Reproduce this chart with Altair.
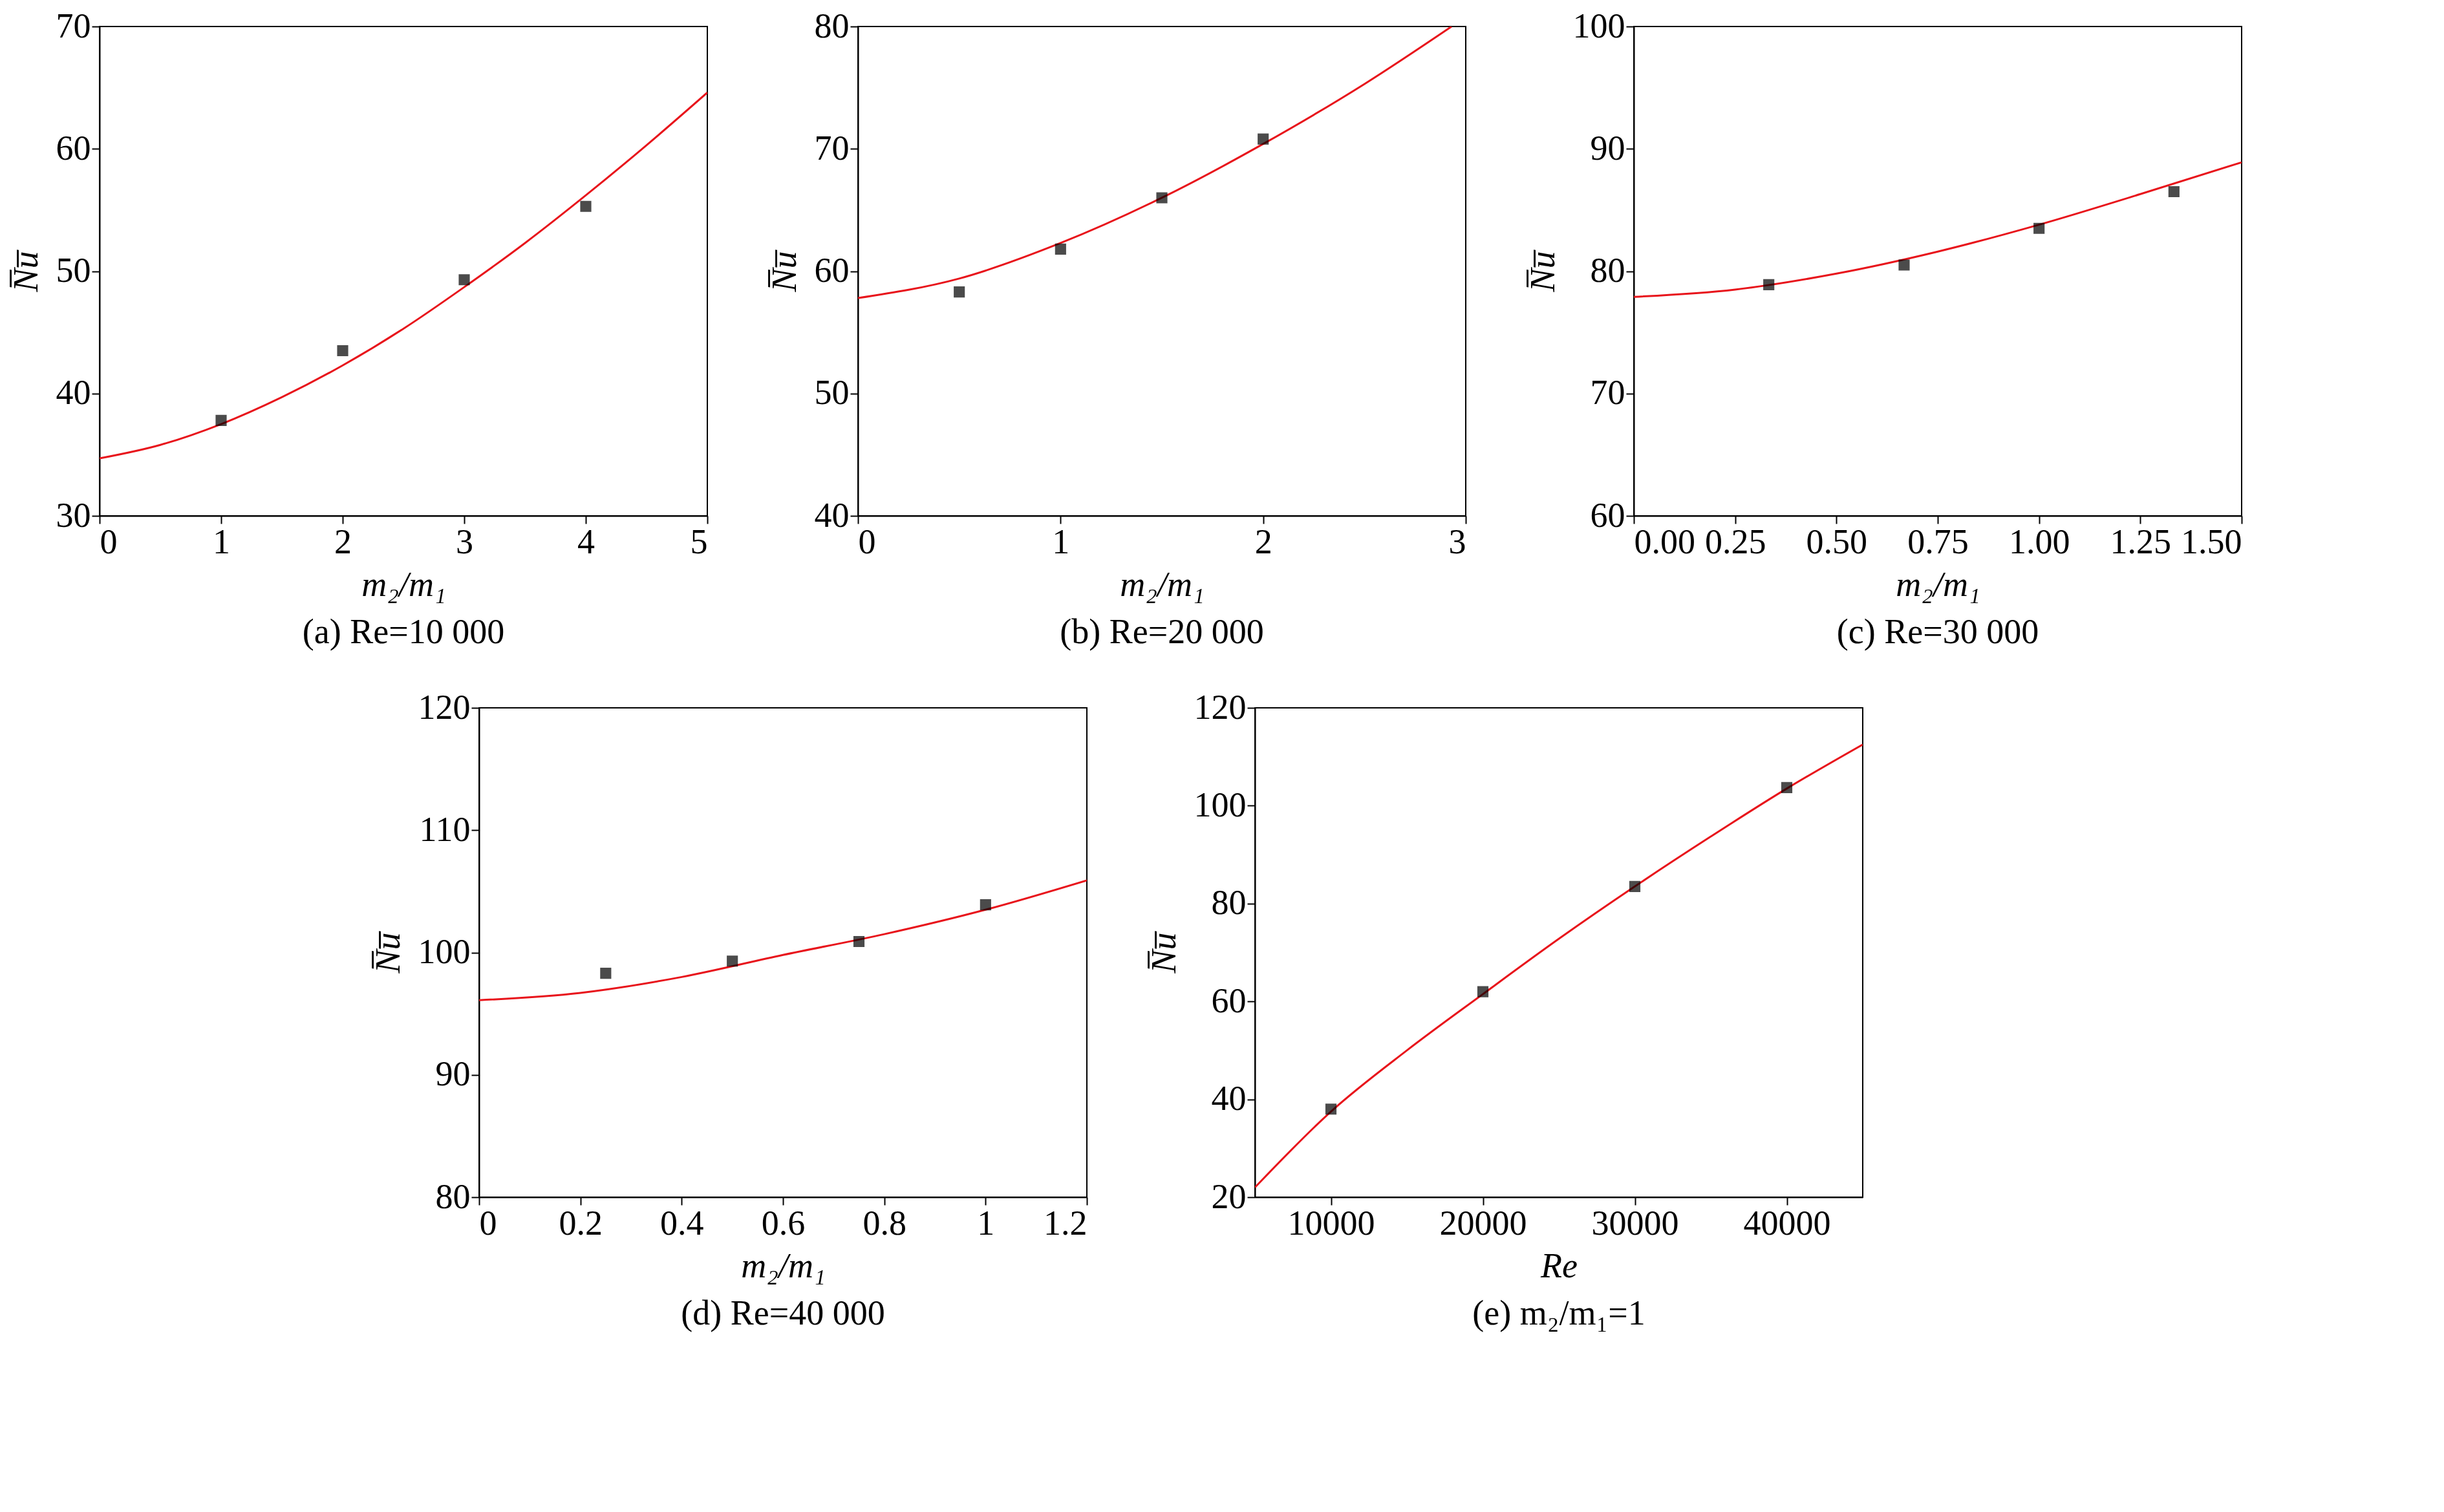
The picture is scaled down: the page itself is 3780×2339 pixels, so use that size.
import altair as alt
import pandas as pd

LINE = "无量纲相关性"
PTS = "平均努塞尔数Nu\u0305"

# panel (a) Re=10 000
a_cx = [0, 0.5, 1, 1.5, 2, 2.5, 3, 3.5, 4, 4.5, 5]
a_cy = [34.7, 35.8, 37.5, 39.7, 42.3, 45.3, 48.7, 52.3, 56.2, 60.3, 64.6]
a_px = [1, 2, 3, 4]
a_py = [37.8, 43.5, 49.3, 55.3]

# panel (b) Re=20 000
b_cx = [0, 0.5, 1, 1.5, 2, 2.5, 2.93]
b_cy = [57.8, 59.4, 62.3, 66.0, 70.4, 75.3, 80.0]
b_px = [0.5, 1, 1.5, 2]
b_py = [58.3, 61.8, 66.0, 70.8]

# panel (c) Re=30 000
c_cx = [0, 0.25, 0.5, 0.75, 1, 1.25, 1.5]
c_cy = [77.9, 78.5, 79.8, 81.6, 83.8, 86.3, 88.9]
c_px = [0.333, 0.667, 1.0, 1.333]
c_py = [78.9, 80.5, 83.5, 86.5]

# panel (d) Re=40 000
d_cx = [0, 0.2, 0.4, 0.6, 0.8, 1.0, 1.2]
d_cy = [96.1, 96.7, 98.0, 99.8, 101.5, 103.5, 105.9]
d_px = [0.25, 0.5, 0.75, 1.0]
d_py = [98.3, 99.3, 100.9, 103.9]

# panel (e) m2/m1=1
e_cx = [5000, 10000, 15000, 20000, 25000, 30000, 35000, 40000, 45000]
e_cy = [22.0, 37.5, 50.0, 61.5, 72.8, 83.5, 93.7, 103.5, 112.5]
e_px = [10000, 20000, 30000, 40000]
e_py = [38.0, 62.0, 83.5, 103.7]

SERIF = "Liberation Serif"
W, H = 940, 757
FS = 54

cscale = alt.Scale(domain=[LINE, PTS], range=["#e8141b", "black"])
sscale = alt.Scale(domain=[LINE, PTS], range=["M-1,0L1,0", "square"])


def panel(cx, cy, px, py, xdom, ydom, xticks, yticks, xtitle, caption, xfmt):
    dl = pd.DataFrame({"x": cx, "y": cy, "s": LINE})
    dp = pd.DataFrame({"x": px, "y": py, "s": PTS})
    xs = alt.Scale(domain=xdom, nice=False, zero=False)
    ys = alt.Scale(domain=ydom, nice=False, zero=False)
    xa = alt.Axis(values=xticks, format=xfmt, title=xtitle, titleFontStyle="italic",
                  grid=False, tickSize=12, titlePadding=12)
    ya = alt.Axis(values=yticks, title="N\u0305u\u0305", titleFontStyle="italic",
                  grid=False, tickSize=12, titlePadding=18)
    line = alt.Chart(dl).mark_line(interpolate="monotone", strokeWidth=3, clip=True).encode(
        x=alt.X("x:Q", scale=xs, axis=xa),
        y=alt.Y("y:Q", scale=ys, axis=ya),
        color=alt.Color("s:N", scale=cscale, legend=None),
    )
    pts = alt.Chart(dp).mark_point(filled=True, size=200, strokeWidth=3).encode(
        x="x:Q", y="y:Q",
        color=alt.Color("s:N", scale=cscale, title=None),
        stroke=alt.Stroke("s:N", scale=cscale, title=None),
        shape=alt.Shape("s:N", scale=sscale, title=None),
    )
    return (line + pts).properties(
        width=W, height=H,
        title=alt.TitleParams(caption, orient="bottom", fontSize=FS, font=SERIF,
                              fontWeight="normal", offset=20, color="black"),
    )


pa = panel(a_cx, a_cy, a_px, a_py, [0, 5], [30, 70], [0, 1, 2, 3, 4, 5],
           [30, 40, 50, 60, 70], "m₂/m₁", "(a) Re=10 000", "d")
pb = panel(b_cx, b_cy, b_px, b_py, [0, 3], [40, 80], [0, 1, 2, 3],
           [40, 50, 60, 70, 80], "m₂/m₁", "(b) Re=20 000", "d")
pc = panel(c_cx, c_cy, c_px, c_py, [0, 1.5], [60, 100],
           [0, 0.25, 0.5, 0.75, 1.0, 1.25, 1.5],
           [60, 70, 80, 90, 100], "m₂/m₁", "(c) Re=30 000", ".2f")
pd_ = panel(d_cx, d_cy, d_px, d_py, [0, 1.2], [80, 120],
            [0, 0.2, 0.4, 0.6, 0.8, 1.0, 1.2],
            [80, 90, 100, 110, 120], "m₂/m₁", "(d) Re=40 000", ".1~f")
pe = panel(e_cx, e_cy, e_px, e_py, [5000, 45000], [20, 120],
           [10000, 20000, 30000, 40000],
           [20, 40, 60, 80, 100, 120], "Re", "(e) m₂/m₁=1", "d")

top = alt.hconcat(pa, pb, pc, spacing=90)
bottom = alt.hconcat(pd_, pe, spacing=90)

chart = alt.vconcat(top, bottom, spacing=60, center=True).configure(
    background="white",
).configure_axis(
    labelFont=SERIF, titleFont=SERIF, labelFontSize=FS, titleFontSize=FS,
    titleFontWeight="normal",
    domainColor="black", tickColor="black", labelColor="black", titleColor="black",
    domainWidth=2, tickWidth=2,
).configure_view(stroke="black", strokeWidth=2).configure_legend(
    orient="top", direction="horizontal", labelFont="Noto Sans CJK SC",
    labelFontSize=FS, symbolSize=900, symbolStrokeWidth=4, columnPadding=20,
    labelColor="black", labelLimit=0,
)

chart.save("out.html", embed_options={"renderer": "svg", "actions": False})
